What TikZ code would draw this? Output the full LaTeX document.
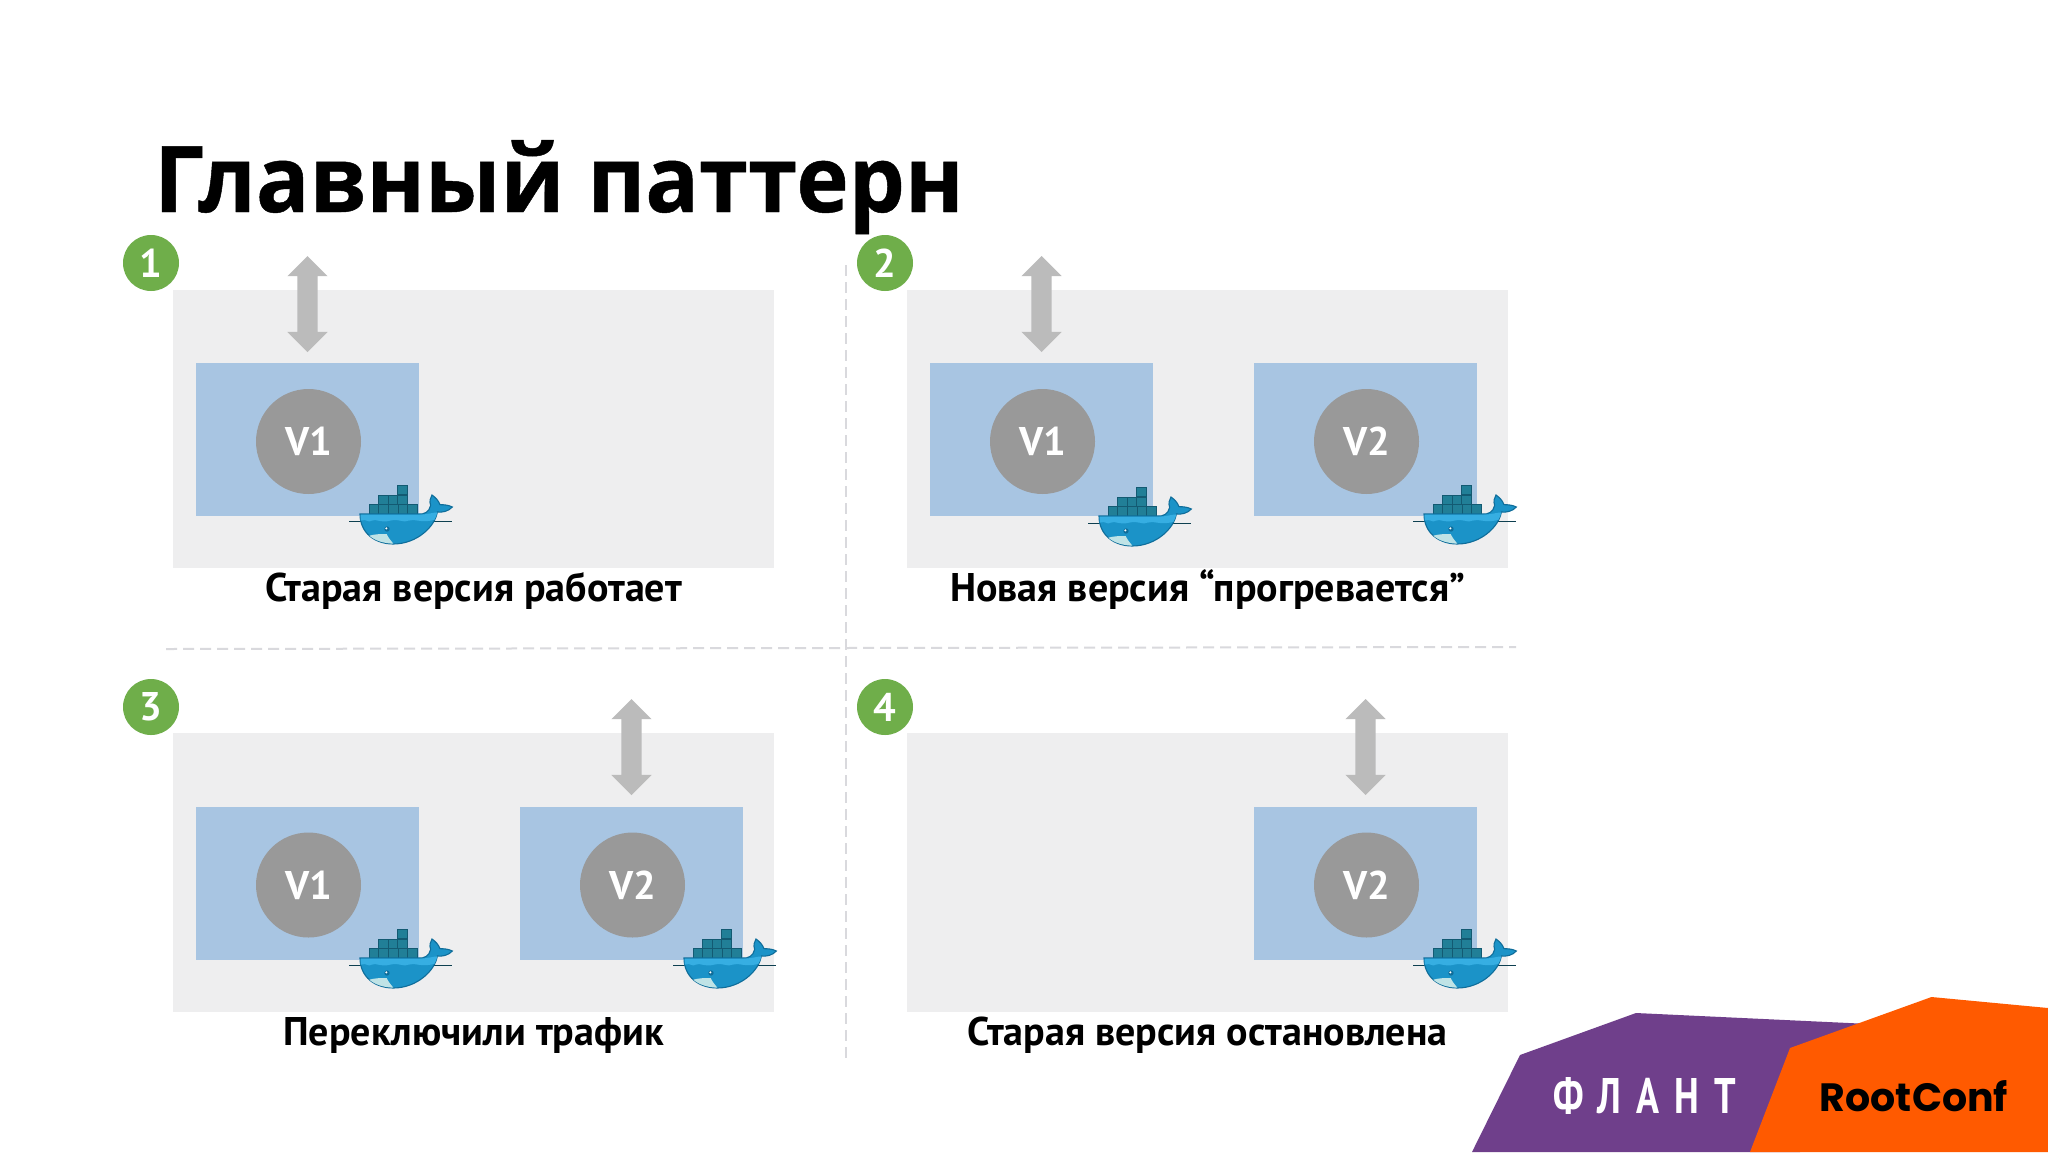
\documentclass[tikz,border=0pt]{standalone}
\usepackage{fontspec}
\setmainfont{PT Sans}
\newfontfamily\titlefont[BoldFeatures={FakeBold=0.5}]{Open Sans}
\newfontfamily\confont{Poppins}
\usetikzlibrary{shapes.arrows}
\definecolor{panelc}{HTML}{EEEEEF}
\definecolor{boxc}{HTML}{A8C5E2}
\definecolor{circc}{HTML}{999999}
\definecolor{arrc}{HTML}{BBBBBB}
\definecolor{greenc}{HTML}{6FAE4A}
\definecolor{dashc}{HTML}{D9D9DD}
\definecolor{purplec}{HTML}{6F3F8B}
\definecolor{orangec}{HTML}{FF5A00}
\definecolor{whalec}{HTML}{1B93C8}
\definecolor{whalel}{HTML}{36AEE2}
\definecolor{whaled}{HTML}{0F6D9A}
\definecolor{crate}{HTML}{217F97}
\definecolor{crated}{HTML}{135A72}
\definecolor{bellyc}{HTML}{BFE3E6}
\tikzset{
  x=1pt,y=-1pt,
  panel/.style={fill=panelc,draw=none},
  appbox/.style={fill=boxc,draw=none,minimum width=223pt,minimum height=153pt,inner sep=0pt,outer sep=0pt},
  vcirc/.style={circle,fill=circc,minimum size=105pt,inner sep=0pt,text=white,font=\bfseries\fontsize{40}{40}\selectfont},
  badge/.style={circle,fill=greenc,minimum size=56pt,inner sep=0pt,text=white,font=\bfseries\fontsize{40}{40}\selectfont},
  traffic/.style={double arrow,fill=arrc,draw=none,rotate=90,minimum height=96pt,minimum width=40pt,
    double arrow head extend=10pt,inner xsep=0pt,inner ysep=10pt,outer sep=0pt},
  caption/.style={anchor=base,font=\bfseries\fontsize{40}{40}\selectfont,text=black,inner sep=0pt},
  sep/.style={draw=dashc,line width=2pt,dash pattern=on 11pt off 6pt},
  whale/.pic={
    \begin{scope}[x=.3333pt,y=-.3333pt]
      % containers
      \foreach \cx/\cy in {172/45,115/75,144/75,173/75,87/103,116/103,145/103,174/103,203/103}{
        \fill[crate,draw=crated,line width=.8pt] (\cx,\cy) rectangle ++(29,29);}
      % water
      \draw[crated!70!black,line width=1pt] (28,155) -- (335,155);
      % body
      \fill[whalec,draw=whaled,line width=1.1pt]
        (60,132) -- (235,132) .. controls (252,134) and (268,126) .. (272,106)
        .. controls (268,94) and (270,84) .. (276,75)
        .. controls (286,82) and (296,92) .. (300,104)
        .. controls (312,104) and (326,105) .. (337,111)
        .. controls (326,124) and (306,128) .. (292,126)
        .. controls (286,168) and (232,222) .. (160,222)
        .. controls (106,222) and (60,190) .. (60,132) -- cycle;
      \fill[whalel] (62,152) .. controls (80,145) and (85,160) .. (95,152)
        .. controls (110,145) and (120,160) .. (150,152)
        .. controls (180,145) and (190,160) .. (205,152)
        .. controls (225,145) and (240,160) .. (283,150)
        .. controls (288,142) and (290,134) .. (292,127)
        .. controls (276,128) and (262,134) .. (235,134) -- (62,134) -- cycle;
      \fill[bellyc] (88,197) .. controls (105,192) and (125,192) .. (140,192)
        .. controls (146,206) and (156,215) .. (160,221)
        .. controls (130,220) and (105,212) .. (88,197) -- cycle;
      \fill[whaled] (141,177) circle (8);
      \fill[white] (139,175) circle (3.5);
    \end{scope}
  }
}
\newcommand{\appslot}[6]{% name, box x centre, box y centre, label, whale x, whale y
  \node[appbox] (#1b) at (#2,#3) {};
  \node[vcirc] (#1c) at ({#2+1},{#3+2}) {#4};
  \pic at (#5,#6) {whale};
}
\begin{document}
\begin{tikzpicture}
\useasboundingbox (0,0) rectangle (2048,1152);
\fill[white] (0,0) rectangle (2048,1152);

\node[anchor=base west,inner sep=0pt,xscale=.965,transform shape,font=\titlefont\bfseries\fontsize{92}{92}\selectfont] (title) at (154,212) {Главный паттерн};

% panels
\fill[panel] (173,290) rectangle (774,568);
\fill[panel] (907,290) rectangle (1508,568);
\fill[panel] (173,733) rectangle (774,1012);
\fill[panel] (907,733) rectangle (1508,1012);

% separators
\coordinate (hl) at (166,649);
\coordinate (hr) at (1516,647);
\coordinate (vt) at (846,265);
\coordinate (vb) at (846,1060);
\draw[sep] (hl) -- (hr);
\draw[sep] (vt) -- (vb);

% panel 1
\appslot{a}{307.5}{439.5}{V1}{340}{470}
% panel 2
\appslot{ba}{1041.5}{439.5}{V1}{1079}{472}
\appslot{bb}{1365.5}{439.5}{V2}{1404}{470}
% panel 3
\appslot{ca}{307.5}{883}{V1}{340}{914}
\appslot{cb}{631.5}{883}{V2}{664}{914}
% panel 4
\appslot{db}{1365.5}{883}{V2}{1404}{914}

% traffic arrows
\node[traffic] (t1) at (307.5,304) {};
\node[traffic] (t2) at (1041.5,304) {};
\node[traffic] (t3) at (631.5,747) {};
\node[traffic] (t4) at (1365.5,747) {};

% badges
\node[badge] (n1) at (151,263) {1};
\node[badge] (n2) at (885,263) {2};
\node[badge] (n3) at (151,707) {3};
\node[badge] (n4) at (885,707) {4};

% captions
\node[caption] (c1) at (473.5,601) {Старая версия работает};
\node[caption] (c2) at (1207.5,601) {Новая версия “прогревается”};
\node[caption] (c3) at (473.5,1045) {Переключили трафик};
\node[caption] (c4) at (1207.5,1045) {Старая версия остановлена};

% logos
\fill[purplec] (1472,1152) -- (1520,1055) -- (1636,1013) -- (1870,1024) -- (1800,1152) -- cycle;
\fill[orangec] (1750,1152) -- (1790,1048) -- (1931.5,997) -- (2048,1008) -- (2048,1152) -- cycle;
\node[text=white,inner sep=0pt,xscale=.76,transform shape,font=\bfseries\fontsize{50}{50}\selectfont] (flant) at (1645,1096) {Ф\kern 18pt Л\kern 20pt А\kern 20pt Н\kern 20pt Т};
\node[text=black,inner sep=0pt,anchor=base,font=\confont\bfseries\fontsize{39.5}{39.5}\selectfont] (rc) at (1914,1111) {RootConf};
\end{tikzpicture}
\end{document}
